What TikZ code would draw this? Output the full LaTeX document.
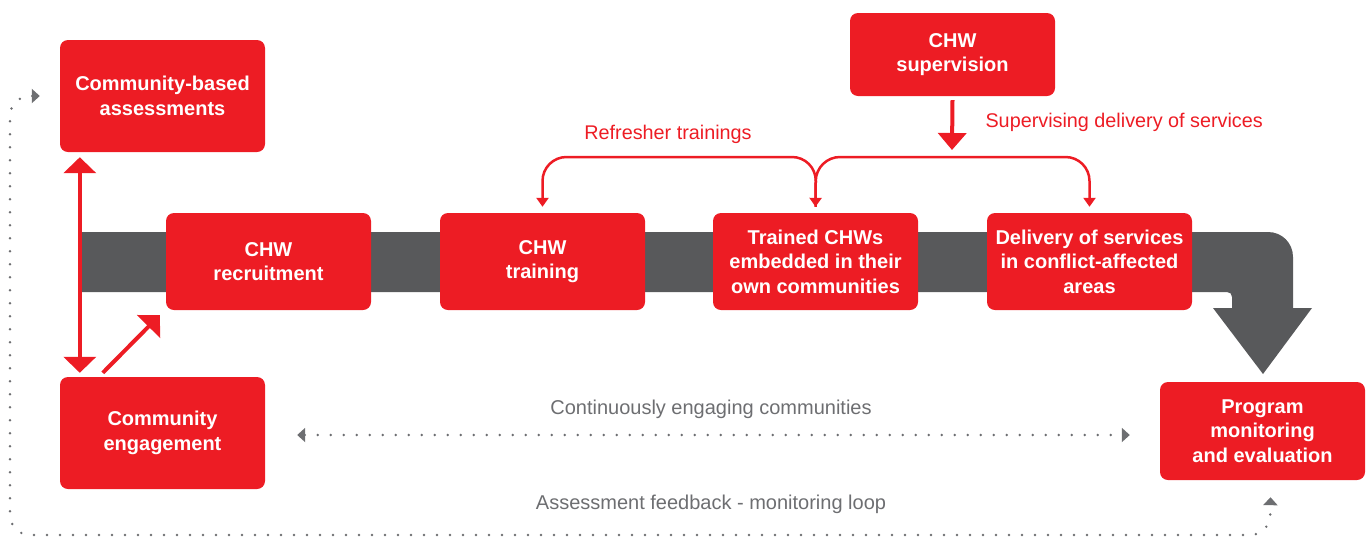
\documentclass[tikz,border=0pt]{standalone}
\usepackage{fontspec}
\setmainfont{Liberation Sans}
\usepackage{xcolor}
\usepackage{tikz}
\usetikzlibrary{arrows.meta,positioning}

\definecolor{chwred}{HTML}{ED1C24}
\definecolor{bandgray}{HTML}{58595B}
\definecolor{dotgray}{HTML}{6D6E71}

\tikzset{
    redbox/.style={
        fill=chwred,
        rounded corners=8pt,
        text=white,
        font=\fontsize{20}{24.5}\selectfont\bfseries,
        align=center,
        minimum width=205pt,
        inner sep=0pt
    },
    bigarrow/.style={
        line width=4pt,
        draw=chwred,
        arrows={-Triangle[width=32pt,length=16pt]}
    },
    bracket/.style={
        line width=2.5pt,
        draw=chwred,
        rounded corners=24pt,
        arrows={-Triangle[width=12pt,length=9pt]}
    },
    dotline/.style={
        line width=2.7pt,
        draw=dotgray,
        line cap=round,
        dash pattern=on 0pt off 13pt,
        arrows={Triangle[width=14pt,length=8pt,fill=dotgray]-Triangle[width=14pt,length=8pt,fill=dotgray]}
    },
    redlabel/.style={text=chwred, font=\fontsize{19.8}{23}\selectfont},
    graylabel/.style={text=dotgray, font=\fontsize{20}{23}\selectfont}
}

\begin{document}
\begin{tikzpicture}[x=1pt,y=-1pt]
    \useasboundingbox (0,0) rectangle (1369,539);

    % main band
    \fill[bandgray] (80,232) -- (1268,232) .. controls (1282,232) and (1293,243) .. (1293,257)
        -- (1293,308) -- (1312,308) -- (1263,374) -- (1213,308) -- (1232,308)
        -- (1232,297) .. controls (1232,294) and (1230,292) .. (1227,292) -- (80,292) -- cycle;

    % boxes
    \node[redbox, minimum height=112pt] (assess) at (162.5,96) {Community-based\\assessments};
    \node[redbox, minimum height=97pt] (recruit) at (268.5,261.5) {CHW\\recruitment};
    \node[redbox, minimum height=97pt] (training) at (542.5,261.5) {CHW\\training};
    \node[redbox, minimum height=97pt] (trained) at (815.5,261.5) {Trained CHWs\\embedded in their\\own communities};
    \node[redbox, minimum height=97pt] (delivery) at (1089.5,261.5) {Delivery of services\\in conflict-affected\\areas};
    \node[redbox, minimum height=83pt] (super) at (952.5,54.5) {CHW\\supervision};
    \node[redbox, minimum height=112pt] (engage) at (162.5,433) {Community\\engagement};
    \node[redbox, minimum height=98pt] (program) at (1262.5,431) {Program\\monitoring\\and evaluation};

    % labels
    \node[redlabel] (refrlabel) at (668,134) {Refresher trainings};
    \node[redlabel, anchor=west] (suplabel) at (982,122) {Supervising delivery of services};
    \node[graylabel] (contlabel) at (711,409) {Continuously engaging communities};
    \node[graylabel] (looplabel) at (711,504) {Assessment feedback - monitoring loop};

    \coordinate (refrtop) at (816,157);
    \coordinate (supend) at (952,150);

    % red arrows
    \draw[
        bigarrow,
        arrows={Triangle[width=32pt,length=16pt]-Triangle[width=32pt,length=16pt]}
        ] ([xshift=20pt,yshift=-5pt]assess.south west) -- ([xshift=20pt,yshift=4pt]engage.north west);

    \draw[
        bigarrow
        ] ([xshift=43pt,yshift=4pt]engage.north west) -- ([xshift=-6pt,yshift=-5pt]recruit.south west);

    \draw[
        bigarrow,
        arrows={-Triangle[width=28pt,length=17pt]}
        ] ([yshift=-4pt]super.south) -- (supend);

    \draw[
        bracket,
        arrows={Triangle[width=12pt,length=9pt]-Triangle[width=12pt,length=9pt]}
        ] ([yshift=6pt]trained.north) -- (refrtop) -| ([yshift=6pt]training.north);

    \draw[
        bracket
        ] ([yshift=6pt]trained.north) -- (refrtop) -| ([yshift=6pt]delivery.north);

    % dotted loops
    \draw[
        dotline
        ] ([xshift=32pt,yshift=-2pt]engage.east) -- ([xshift=-30pt,yshift=-4pt]program.west);

    \draw[
        dotline,
        rounded corners=20pt
        ] ([xshift=-20pt]assess.west) -- (10,96) -- (10,535) -- (1270,535) -- ([xshift=8pt,yshift=-17pt]program.south);

\end{tikzpicture}
\end{document}
